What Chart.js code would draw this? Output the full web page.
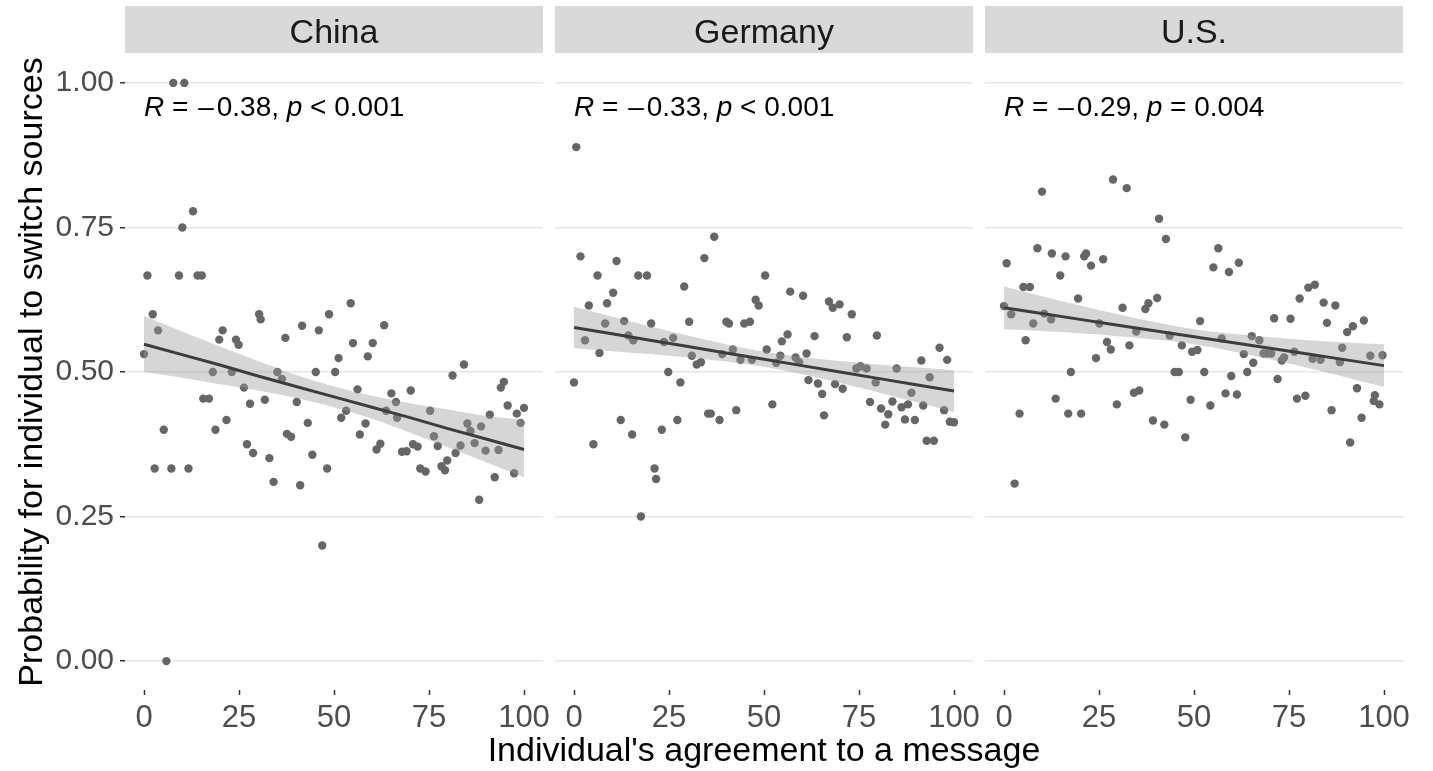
<!DOCTYPE html>
<html>
<head>
<meta charset="utf-8">
<script src="https://cdn.jsdelivr.net/npm/chart.js@4.4.1/dist/chart.umd.min.js"></script>
<style>
  body { margin: 0; background: #fff; }
  #wrap { position: relative; width: 1433px; height: 771px; background: #fff; }
  #wrap canvas { position: absolute; left: 0; top: 0; }
</style>
</head>
<body>
<div id="wrap">
  <canvas id="c0" width="1433" height="771"></canvas>
  <canvas id="c1" width="1433" height="771"></canvas>
  <canvas id="c2" width="1433" height="771"></canvas>
</div>
<script>
// ---- data ----
const panelNames = ['China', 'Germany', 'U.S.'];
const rLabels = ['\u20130.38', '\u20130.33', '\u20130.29'];
const pLabels = ['< 0.001', '< 0.001', '= 0.004'];
const xTitle = "Individual's agreement to a message";
const yTitle = 'Probability for individual to switch sources';
const xTicks = [0, 25, 50, 75, 100];
const yTicks = [0, 0.25, 0.5, 0.75, 1];

const chinaX = [7.7, 10.6, 12.9, 10.1, 0.9, 9.2, 14.1, 15.2,
  2.3, 3.7, 0, 30.3, 30.7, 54.4, 48.7, 41.6, 46.0, 63.2, 20.7, 19.8, 24.2, 24.9, 37.2, 55.0, 60.2, 58.9, 51.2,
  18.1, 23.1, 35.1, 36.3, 45.2, 50.3, 81.2, 84.2, 26.3, 15.6, 17.1, 27.9, 31.8, 40.2, 56.2, 65.1, 66.3, 70.2,
  53.2, 51.9, 63.7, 66.6, 75.3, 93.9, 94.7, 95.7, 100, 98.1, 91.0, 85.1, 85.9, 88.7, 99.1, 21.7, 5.2, 18.8,
  43.1, 58.3, 37.6, 38.7, 56.8, 76.3, 27.1, 28.7, 33.0, 44.3, 61.2, 62.2, 67.9, 69.1, 70.8, 72.0, 77.3, 83.3,
  87.0, 89.9, 93.3, 82.0, 79.8, 78.3, 79.2, 72.7, 74.1, 2.8, 7.2, 11.7, 48.2, 34.1, 41.1, 92.3, 97.4, 88.2,
  46.9, 5.9];
const chinaY = [1.0, 1.0, 0.778, 0.75, 0.667, 0.667, 0.667, 0.667,
  0.600, 0.572, 0.531, 0.600, 0.591, 0.619, 0.600, 0.580, 0.572, 0.581, 0.572, 0.556, 0.556, 0.547, 0.559, 0.550, 0.550, 0.527, 0.524,
  0.500, 0.500, 0.500, 0.488, 0.500, 0.500, 0.494, 0.513, 0.473, 0.454, 0.454, 0.445, 0.452, 0.448, 0.470, 0.463, 0.448, 0.468,
  0.433, 0.421, 0.433, 0.421, 0.433, 0.473, 0.483, 0.442, 0.438, 0.428, 0.426, 0.411, 0.398, 0.406, 0.412, 0.417, 0.400, 0.400,
  0.412, 0.411, 0.393, 0.388, 0.392, 0.389, 0.375, 0.360, 0.351, 0.357, 0.366, 0.376, 0.362, 0.363, 0.375, 0.371, 0.372, 0.373,
  0.377, 0.364, 0.365, 0.360, 0.347, 0.337, 0.330, 0.333, 0.328, 0.333, 0.333, 0.333, 0.333, 0.310, 0.304, 0.318, 0.325, 0.279,
  0.200, 0.000];

const germanyX = [0.6, 36.9, 1.7, 11.2, 34.3, 6.2, 16.9, 19.2, 50.3, 29.0, 10.3, 56.9, 60.3, 47.8,
  3.9, 8.7, 48.6, 67.1, 68.1, 69.9, 73.1, 8.2, 13.2, 20.3, 30.3, 40.1, 40.8, 44.8, 46.3, 2.9, 6.7, 14.3, 15.6,
  23.7, 26.1, 31.0, 32.3, 33.4, 39.0, 41.8, 43.8, 46.8, 50.7, 53.2, 54.3, 54.7, 56.2, 58.3, 59.2, 61.2, 63.3,
  71.8, 79.7, 74.3, 75.4, 77.0, 84.9, 91.4, 96.2, 98.2, 93.6, 0, 24.8, 28.0, 61.7, 64.2, 65.3, 68.7, 70.7, 79.4,
  52.2, 42.7, 35.3, 36.0, 38.3, 27.2, 12.3, 23.1, 15.3, 5.1, 65.8, 77.9, 80.8, 82.7, 81.9, 83.8, 86.2, 87.9, 88.8,
  87.1, 89.7, 91.9, 97.4, 98.9, 100, 92.8, 94.7, 21.2, 21.6, 17.6];
const germanyY = [0.889, 0.734, 0.700, 0.692, 0.697, 0.667, 0.667, 0.667, 0.667, 0.648, 0.637, 0.639, 0.632, 0.625,
  0.615, 0.619, 0.615, 0.622, 0.611, 0.617, 0.600, 0.584, 0.588, 0.584, 0.587, 0.587, 0.584, 0.584, 0.587, 0.555, 0.533, 0.563, 0.555,
  0.552, 0.559, 0.528, 0.513, 0.517, 0.531, 0.539, 0.521, 0.521, 0.539, 0.516, 0.528, 0.553, 0.565, 0.525, 0.517, 0.532, 0.562,
  0.560, 0.563, 0.506, 0.510, 0.506, 0.506, 0.520, 0.542, 0.521, 0.491, 0.482, 0.500, 0.482, 0.486, 0.480, 0.462, 0.479, 0.471, 0.482,
  0.444, 0.434, 0.428, 0.428, 0.417, 0.417, 0.417, 0.400, 0.392, 0.375, 0.425, 0.448, 0.437, 0.427, 0.409, 0.449, 0.439, 0.444, 0.464,
  0.418, 0.417, 0.442, 0.434, 0.414, 0.413, 0.381, 0.381, 0.333, 0.315, 0.250];

const usX = [10.0, 28.7, 32.3, 40.8, 42.6, 0.7, 8.8, 12.6, 16.2, 21.1, 21.6, 22.9, 26.1, 14.8, 5.1, 6.8, 19.5,
  56.4, 55.1, 59.2, 61.8, 40.3, 77.8, 80.1, 81.8,
  0, 1.9, 7.7, 5.7, 10.6, 12.4, 25.1, 31.2, 37.2, 38.0, 34.8, 27.1, 28.1, 33.0, 24.2, 17.6, 43.6, 46.8, 49.5,
  50.9, 51.6, 44.9, 46.0, 52.7, 57.3, 63.1, 65.2, 67.2, 65.6, 64.0, 59.8, 68.3, 69.2, 70.3, 71.1, 75.4, 73.1,
  73.7, 76.4, 72.0, 81.2, 83.3, 84.1, 87.2, 85.0, 90.3, 91.8, 94.7, 89.0, 88.4, 96.4, 99.6, 92.9, 97.6, 97.3,
  98.8, 94.1, 91.1, 86.2, 77.1, 79.3, 58.3, 61.3, 54.3, 49.1, 47.7, 42.2, 39.2, 34.2, 35.6, 29.7, 20.3, 16.9,
  13.6, 4.1, 2.8];
const usY = [0.812, 0.833, 0.818, 0.765, 0.730, 0.688, 0.714, 0.705, 0.700, 0.700, 0.705, 0.684, 0.695, 0.667, 0.647, 0.647, 0.627,
  0.714, 0.681, 0.673, 0.689, 0.628, 0.627, 0.646, 0.651,
  0.614, 0.600, 0.584, 0.555, 0.601, 0.591, 0.584, 0.611, 0.609, 0.619, 0.570, 0.552, 0.539, 0.546, 0.524, 0.500, 0.563, 0.546, 0.535,
  0.538, 0.588, 0.500, 0.500, 0.500, 0.558, 0.531, 0.562, 0.555, 0.516, 0.500, 0.493, 0.532, 0.532, 0.532, 0.593, 0.592, 0.520,
  0.525, 0.535, 0.488, 0.523, 0.521, 0.620, 0.615, 0.585, 0.569, 0.579, 0.589, 0.542, 0.517, 0.528, 0.529, 0.472, 0.460, 0.450,
  0.444, 0.421, 0.378, 0.434, 0.454, 0.459, 0.463, 0.461, 0.442, 0.452, 0.387, 0.409, 0.416, 0.464, 0.468, 0.444, 0.428, 0.428,
  0.454, 0.428, 0.307];

// fitted line and 95% band, read at these x positions
const bandX = [0, 10, 20, 30, 40, 50, 60, 70, 80, 90, 100];
const chinaFit   = [0.548, 0.530, 0.512, 0.493, 0.475, 0.457, 0.439, 0.421, 0.402, 0.384, 0.366];
const chinaLow   = [0.500, 0.490, 0.479, 0.468, 0.455, 0.439, 0.419, 0.395, 0.370, 0.344, 0.318];
const chinaHigh  = [0.597, 0.570, 0.544, 0.519, 0.495, 0.475, 0.459, 0.446, 0.435, 0.424, 0.418];
const germanyFit  = [0.577, 0.566, 0.555, 0.544, 0.533, 0.522, 0.511, 0.500, 0.489, 0.478, 0.467];
const germanyLow  = [0.541, 0.536, 0.531, 0.525, 0.518, 0.509, 0.496, 0.481, 0.465, 0.448, 0.431];
const germanyHigh = [0.613, 0.596, 0.579, 0.563, 0.548, 0.535, 0.526, 0.519, 0.513, 0.508, 0.503];
const usFit  = [0.611, 0.601, 0.591, 0.581, 0.571, 0.561, 0.551, 0.541, 0.531, 0.521, 0.511];
const usLow  = [0.574, 0.571, 0.567, 0.562, 0.556, 0.548, 0.536, 0.522, 0.507, 0.491, 0.474];
const usHigh = [0.648, 0.631, 0.615, 0.600, 0.586, 0.574, 0.566, 0.560, 0.555, 0.551, 0.548];

// ---- drawing ----
const FONT = '"Liberation Sans", Arial, Helvetica, sans-serif';
Chart.defaults.font.family = FONT;

const pairs = (xs, ys) => xs.map((x, i) => ({ x, y: ys[i] }));

const facetDecor = {
  id: 'facetDecor',
  afterDraw(chart, args, opts) {
    const { ctx, chartArea: a, scales: { x, y } } = chart;
    ctx.save();
    // strip
    ctx.fillStyle = '#d9d9d9';
    ctx.fillRect(a.left, 6, a.right - a.left, 47);
    ctx.fillStyle = '#1a1a1a';
    ctx.font = '34px ' + FONT;
    ctx.textAlign = 'center';
    ctx.textBaseline = 'alphabetic';
    ctx.fillText(opts.label, (a.left + a.right) / 2, 43);
    // shared x title (middle panel only; it is wider than one panel)
    if (opts.xTitle) {
      ctx.fillStyle = '#000';
      ctx.fillText(opts.xTitle, (a.left + a.right) / 2, 761);
    }
    // correlation label
    let px = x.getPixelForValue(0);
    const py = y.getPixelForValue(0.943);
    ctx.textAlign = 'left';
    ctx.fillStyle = '#000';
    const parts = [
      ['italic', 'R', 0], ['normal', ' = ', 0], ['normal', opts.r.slice(0, 1), 2],
      ['normal', opts.r.slice(1) + ', ', 3], ['italic', 'p', 0], ['normal', ' ' + opts.p, 0]
    ];
    parts.forEach(([style, txt, gap]) => {
      px += gap;
      ctx.font = style + ' 28px ' + FONT;
      ctx.fillText(txt, px, py);
      px += ctx.measureText(txt).width;
    });
    ctx.restore();
  }
};

const panelData = [
  { pts: pairs(chinaX, chinaY), fit: chinaFit, low: chinaLow, high: chinaHigh, left: 125, right: 543 },
  { pts: pairs(germanyX, germanyY), fit: germanyFit, low: germanyLow, high: germanyHigh, left: 555, right: 973 },
  { pts: pairs(usX, usY), fit: usFit, low: usLow, high: usHigh, left: 985, right: 1403 }
];

panelData.forEach((p, i) => {
  const first = i === 0;
  new Chart(document.getElementById('c' + i), {
    type: 'scatter',
    data: {
      datasets: [
        {
          data: p.pts, backgroundColor: '#666666', borderWidth: 0,
          pointRadius: 4.2, pointHoverRadius: 4.2, order: 3
        },
        {
          type: 'line', data: pairs(bandX, p.low), borderWidth: 0, pointRadius: 0,
          fill: false, cubicInterpolationMode: 'monotone', order: 2
        },
        {
          type: 'line', data: pairs(bandX, p.high), borderWidth: 0, pointRadius: 0,
          fill: '-1', backgroundColor: 'rgba(153,153,153,0.4)', cubicInterpolationMode: 'monotone', order: 2
        },
        {
          type: 'line', data: pairs(bandX, p.fit), borderColor: '#3d3d3d', borderWidth: 3,
          pointRadius: 0, fill: false, order: 1
        }
      ]
    },
    options: {
      responsive: false,
      animation: false,
      devicePixelRatio: 1,
      events: [],
      layout: {
        padding: { left: first ? 0 : p.left, right: 1433 - p.right, top: 54, bottom: 0 }
      },
      plugins: {
        legend: { display: false },
        tooltip: { enabled: false },
        facetDecor: { label: panelNames[i], r: rLabels[i], p: pLabels[i], xTitle: i === 1 ? xTitle : '' }
      },
      scales: {
        x: {
          type: 'linear', min: -5, max: 105,
          afterBuildTicks: s => { s.ticks = xTicks.map(v => ({ value: v })); },
          afterFit: s => { s.height = 81; },
          border: { display: false },
          grid: { drawOnChartArea: false, drawTicks: true, tickLength: 5, tickColor: '#333333', tickWidth: 1.5 },
          ticks: { autoSkip: false, maxRotation: 0, padding: 5, color: '#4d4d4d', font: { size: 31 },
                   callback: v => String(v) }
        },
        y: {
          type: 'linear', min: -0.05, max: 1.05,
          afterBuildTicks: s => { s.ticks = yTicks.map(v => ({ value: v })); },
          afterFit: s => { s.width = first ? 125 : 0; },
          border: { display: false },
          grid: { color: '#e6e6e6', lineWidth: 1.5, drawTicks: first, tickLength: 5, tickColor: '#333333', tickWidth: 1.5 },
          ticks: { display: first, padding: 6, color: '#4d4d4d', font: { size: 30 },
                   callback: v => v.toFixed(2) },
          title: {
            display: first, text: yTitle, color: '#000',
            font: { size: 34 }, padding: { top: 12, bottom: 0 }
          }
        }
      }
    },
    plugins: [facetDecor]
  });
});
</script>
</body>
</html>
